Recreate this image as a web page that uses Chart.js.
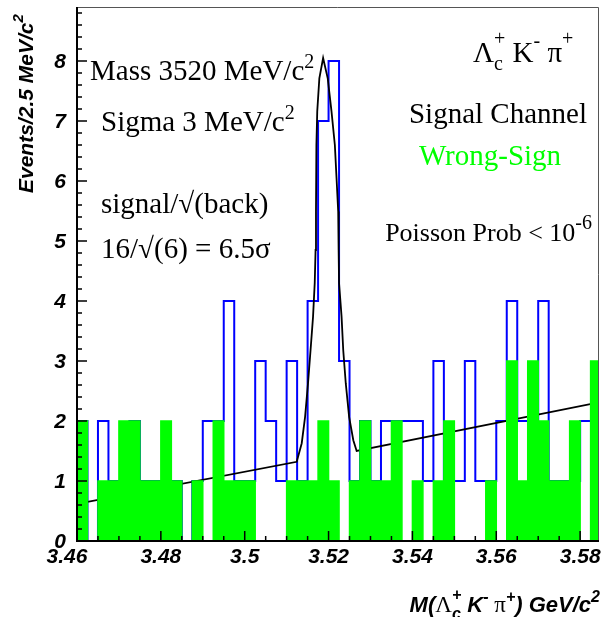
<!DOCTYPE html>
<html lang="en">
  <head>
    <meta charset="UTF-8" />
    <title>M(Lambda_c K pi) - Signal vs Wrong-Sign</title>
    <script src="https://cdn.jsdelivr.net/npm/chart.js"></script>
    <style>
      html,
      body {
        margin: 0;
        padding: 0;
        background: #ffffff;
      }
      #massChart {
        display: block;
      }
    </style>
  </head>
  <body>
    <canvas id="massChart" width="603" height="617"></canvas>

    <script>
      // histogram binning: 2.5 MeV bins from 3.46 GeV
      var binStart = 3.46;
      var binWidth = 0.0025;

      // signal channel (blue outline), counts per bin
      var signalCounts = [
        2, 0, 2, 1, 1, 2, 1, 1, 1, 1,
        0, 1, 2, 2, 4, 1, 1, 3, 2, 1,
        3, 1, 4, 7, 8, 3, 1, 2, 1, 2,
        2, 2, 2, 1, 3, 1, 1, 3, 1, 1,
        2, 4, 2, 2, 4, 1, 1, 1, 2, 2
      ];

      // wrong-sign (green fill), counts per bin
      var wrongSignCounts = [
        2, 0, 1, 1, 2, 2, 1, 1, 2, 1,
        0, 1, 0, 2, 1, 1, 1, 0, 0, 0,
        1, 1, 1, 2, 1, 0, 1, 2, 1, 1,
        2, 0, 1, 0, 1, 2, 0, 0, 0, 1,
        0, 3, 1, 3, 2, 1, 1, 2, 0, 3
      ];

      // fit curve (GeV, events)
      var fitX = [
        3.46, 3.5124, 3.5136, 3.5144, 3.5151, 3.5157, 3.5163, 3.5167,
        3.5169, 3.517, 3.5171, 3.5173, 3.5178, 3.5187, 3.5198, 3.5207,
        3.5215, 3.5219, 3.5223, 3.5224, 3.5225, 3.5231, 3.5235, 3.5241,
        3.5249, 3.5259, 3.5267, 3.5845
      ];
      var fitY = [
        0.62, 1.32, 1.63, 2.07, 2.63, 3.18, 3.74, 4.3,
        4.85, 5.49, 6.6, 7.16, 7.71, 8.05, 7.71, 7.16,
        6.6, 6.05, 5.49, 4.85, 4.3, 3.74, 3.18, 2.63,
        2.07, 1.68, 1.5, 2.31
      ];

      var xTickLabels = [3.46, 3.48, 3.5, 3.52, 3.54, 3.56, 3.58];
      var yTickLabels = [0, 1, 2, 3, 4, 5, 6, 7, 8];

      function stepPoints(counts) {
        var pts = counts.map(function (c, i) {
          return { x: binStart + i * binWidth, y: c };
        });
        pts.push({ x: binStart + counts.length * binWidth, y: counts[counts.length - 1] });
        return pts;
      }

      var fitPoints = fitX.map(function (x, i) {
        return { x: x, y: fitY[i] };
      });

      // --- rich text helpers (sub/superscripts) ---
      var SERIF = '"Liberation Serif", "Times New Roman", serif';
      var SANS = '"Liberation Sans", Arial, Helvetica, sans-serif';
      var fBig = "29px " + SERIF;
      var fMid = "26px " + SERIF;
      var fSmall = "20px " + SERIF;
      var fAxis = "italic bold 21px " + SANS;
      var fTitle = "italic bold 22px " + SANS;
      var fTitleSmall = "italic bold 16px " + SANS;
      var fAxisSmall = "italic bold 15px " + SANS;
      var fGreek = "23px " + SERIF;

      function layoutRich(ctx, parts) {
        var x = 0, out = [], stackFrom = null;
        parts.forEach(function (p) {
          ctx.font = p.font;
          var w = ctx.measureText(p.text).width;
          if (stackFrom) {
            out.push({ p: p, x: stackFrom.x });
            x = stackFrom.x + Math.max(stackFrom.w, w);
            stackFrom = null;
          } else {
            out.push({ p: p, x: x });
            if (p.stack) stackFrom = { x: x, w: w };
            x += w;
          }
        });
        return { items: out, width: x };
      }

      function drawRich(ctx, parts, x, y, align, color) {
        var lay = layoutRich(ctx, parts);
        var x0 = x;
        if (align === "right") x0 = x - lay.width;
        if (align === "center") x0 = x - lay.width / 2;
        ctx.fillStyle = color || "#000";
        ctx.textAlign = "left";
        ctx.textBaseline = "alphabetic";
        lay.items.forEach(function (it) {
          ctx.font = it.p.font;
          ctx.fillText(it.p.text, x0 + it.x, y + (it.p.dy || 0));
        });
      }

      // ROOT-like frame, inward ticks, labels and annotations
      var rootStyle = {
        id: "rootStyle",
        afterDraw: function (chart) {
          var ctx = chart.ctx;
          var xs = chart.scales.x;
          var ys = chart.scales.y;
          var a = chart.chartArea;
          ctx.save();

          // frame
          ctx.strokeStyle = "#555";
          ctx.lineWidth = 1;
          ctx.beginPath();
          ctx.moveTo(a.left, a.top + 0.5);
          ctx.lineTo(a.right - 0.5, a.top + 0.5);
          ctx.lineTo(a.right - 0.5, a.bottom);
          ctx.stroke();
          ctx.strokeStyle = "#000";
          ctx.lineWidth = 2;
          ctx.beginPath();
          ctx.moveTo(a.left, a.top);
          ctx.lineTo(a.left, a.bottom);
          ctx.lineTo(a.right, a.bottom);
          ctx.stroke();

          // ticks
          ctx.lineWidth = 1.5;
          ctx.beginPath();
          var v, px, big;
          for (v = 0; v <= 24; v++) {
            px = xs.getPixelForValue(3.46 + v * 0.005);
            big = v % 4 === 0;
            ctx.moveTo(px, a.bottom);
            ctx.lineTo(px, a.bottom - (big ? 10 : 5));
          }
          for (v = 0; v <= 44; v++) {
            px = ys.getPixelForValue(v * 0.2);
            big = v % 5 === 0;
            ctx.moveTo(a.left, px);
            ctx.lineTo(a.left + (big ? 10 : 5), px);
          }
          ctx.stroke();

          // tick labels
          ctx.fillStyle = "#000";
          ctx.font = fAxis;
          ctx.textBaseline = "alphabetic";
          ctx.textAlign = "center";
          xTickLabels.forEach(function (t, i) {
            var x = xs.getPixelForValue(t) - (i === 0 ? 10 : 0);
            ctx.fillText(String(t), x, 563);
          });
          ctx.textAlign = "right";
          ctx.textBaseline = "middle";
          yTickLabels.forEach(function (t) {
            ctx.fillText(String(t), a.left - 11, ys.getPixelForValue(t) + 1);
          });

          // axis titles
          drawRich(ctx, [
            { text: "M(", font: fTitle },
            { text: "\u039B", font: fGreek },
            { text: "c", font: fTitleSmall, dy: 7, stack: true },
            { text: "+", font: fTitleSmall, dy: -12 },
            { text: " K", font: fTitle },
            { text: "-", font: fTitleSmall, dy: -10 },
            { text: " \u03C0", font: fGreek },
            { text: "+", font: fTitleSmall, dy: -10 },
            { text: ") GeV/c", font: fTitle },
            { text: "2", font: fTitleSmall, dy: -10 }
          ], 600, 612, "right");

          ctx.save();
          ctx.translate(33, 193);
          ctx.rotate(-Math.PI / 2);
          drawRich(ctx, [
            { text: "Events/2.5 MeV/c", font: fAxis },
            { text: "2", font: fAxisSmall, dy: -10 }
          ], 0, 0, "left");
          ctx.restore();

          // annotations
          drawRich(ctx, [
            { text: "Mass 3520 MeV/c", font: fBig },
            { text: "2", font: fSmall, dy: -12 }
          ], 90, 80, "left");
          drawRich(ctx, [
            { text: "Sigma 3 MeV/c", font: fBig },
            { text: "2", font: fSmall, dy: -12 }
          ], 101, 131, "left");
          drawRich(ctx, [{ text: "signal/\u221A(back)", font: fBig }], 101, 213, "left");
          drawRich(ctx, [{ text: "16/\u221A(6) = 6.5\u03C3", font: fBig }], 101, 258, "left");

          drawRich(ctx, [
            { text: "\u039B", font: fBig },
            { text: "c", font: fSmall, dy: 8, stack: true },
            { text: "+", font: fSmall, dy: -17 },
            { text: " K", font: fBig },
            { text: "-", font: fSmall, dy: -15 },
            { text: " \u03C0", font: fBig },
            { text: "+", font: fSmall, dy: -17 }
          ], 473, 62, "left");
          drawRich(ctx, [{ text: "Signal Channel", font: fBig }], 587, 123, "right");
          drawRich(ctx, [{ text: "Wrong-Sign", font: fBig }], 490, 165, "center", "#00ff00");
          drawRich(ctx, [
            { text: "Poisson Prob < 10", font: fMid },
            { text: "-6", font: fSmall, dy: -12 }
          ], 592, 241, "right");

          ctx.restore();
        }
      };

      var massCtx = document.getElementById("massChart").getContext("2d");
      var massChart = new Chart(massCtx, {
        type: "line",
        data: {
          datasets: [
            {
              label: "Wrong-Sign",
              data: stepPoints(wrongSignCounts),
              stepped: true,
              fill: "origin",
              backgroundColor: "#00ff00",
              borderColor: "#00ff00",
              borderWidth: 1.5,
              pointRadius: 0,
              order: 1
            },
            {
              label: "Fit",
              data: fitPoints,
              borderColor: "#000000",
              borderWidth: 1.8,
              pointRadius: 0,
              tension: 0,
              fill: false,
              order: 2
            },
            {
              label: "Signal Channel",
              data: stepPoints(signalCounts),
              stepped: true,
              fill: false,
              borderColor: "#0000ff",
              borderWidth: 2,
              pointRadius: 0,
              order: 3
            }
          ]
        },
        options: {
          responsive: false,
          animation: false,
          layout: { padding: { top: 7, right: 4, left: 0, bottom: 0 } },
          plugins: {
            legend: { display: false },
            tooltip: { enabled: false }
          },
          scales: {
            x: {
              type: "linear",
              min: 3.46,
              max: 3.5845,
              ticks: { display: false },
              grid: { display: false },
              border: { display: false },
              afterFit: function (s) {
                s.height = 76;
              }
            },
            y: {
              type: "linear",
              min: 0,
              max: 8.9,
              ticks: { display: false },
              grid: { display: false },
              border: { display: false },
              afterFit: function (s) {
                s.width = 77;
              }
            }
          }
        },
        plugins: [rootStyle]
      });
    </script>
  </body>
</html>
